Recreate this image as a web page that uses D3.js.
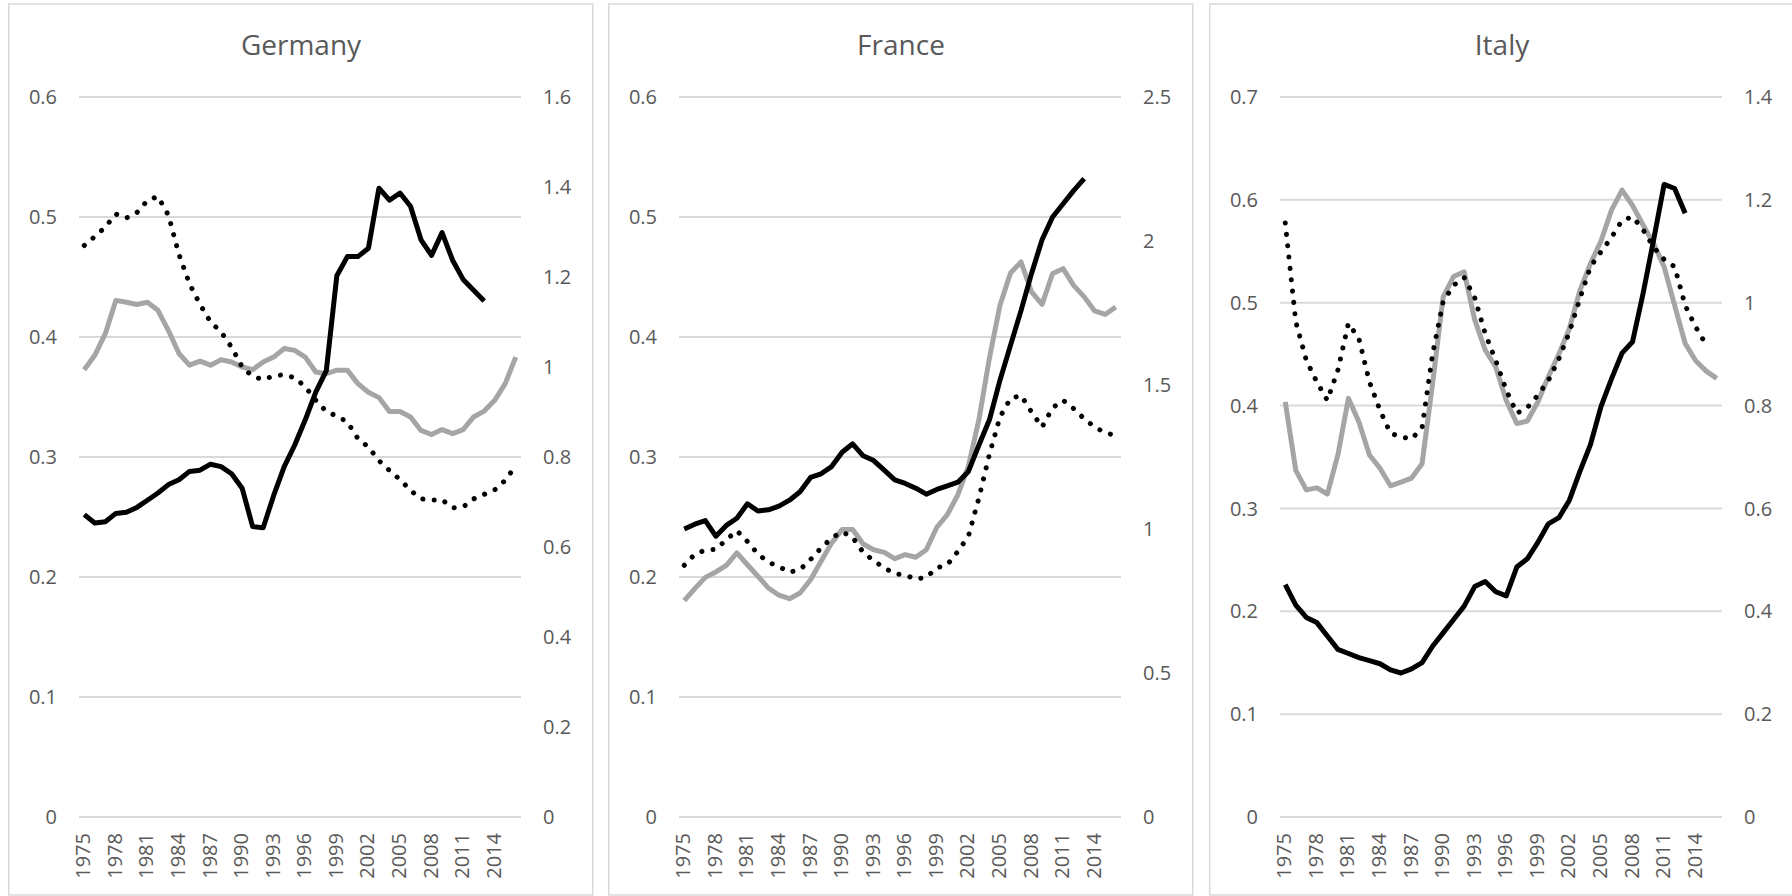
<!DOCTYPE html>
<html>
<head>
<meta charset="utf-8">
<script src="https://cdn.jsdelivr.net/npm/d3@7"></script>
<style>
  body { margin: 0; background: #fff; }
  text { font-family: "Open Sans", Lato, sans-serif; fill: #595959; }
</style>
</head>
<body>
<svg id="chart"></svg>
<script>
// categories
const years = [1975,1976,1977,1978,1979,1980,1981,1982,1983,1984,1985,1986,1987,1988,1989,1990,
  1991,1992,1993,1994,1995,1996,1997,1998,1999,2000,2001,2002,2003,2004,2005,2006,2007,2008,
  2009,2010,2011,2012,2013,2014,2015,2016];
const yearTicks = [1975,1978,1981,1984,1987,1990,1993,1996,1999,2002,2005,2008,2011,2014];

// Germany
const germanyBlack = [0.252,0.245,0.246,0.253,0.254,0.258,0.264,0.270,0.277,0.281,
  0.288,0.289,0.294,0.292,0.286,0.274,0.242,0.241,0.268,0.292,
  0.310,0.331,0.354,0.372,0.451,0.467,0.467,0.474,0.524,0.514,
  0.520,0.509,0.481,0.468,0.487,0.464,0.448,0.439,0.430,null,null,null];
const germanyGray = [0.994,1.026,1.074,1.148,1.144,1.139,1.144,1.126,1.081,1.030,
  1.004,1.013,1.004,1.016,1.011,1.000,0.994,1.011,1.022,1.041,
  1.037,1.022,0.989,0.985,0.993,0.993,0.963,0.944,0.932,0.901,
  0.901,0.889,0.859,0.850,0.861,0.852,0.861,0.889,0.902,0.926,0.963,1.022];
const germanyDotted = [1.270,1.290,1.311,1.340,1.331,1.343,1.370,1.379,1.337,1.250,
  1.185,1.139,1.100,1.078,1.044,1.000,0.979,0.972,0.980,0.983,
  0.976,0.956,0.926,0.901,0.891,0.878,0.841,0.822,0.792,0.770,
  0.750,0.726,0.707,0.704,0.705,0.687,0.689,0.707,0.717,0.727,0.748,0.781];

// France
const franceBlack = [0.240,0.244,0.247,0.234,0.243,0.249,0.261,0.255,0.256,0.259,
  0.264,0.271,0.283,0.286,0.292,0.304,0.311,0.301,0.297,0.289,
  0.281,0.278,0.274,0.269,0.273,0.276,0.279,0.288,0.310,0.331,
  0.364,0.393,0.422,0.453,0.481,0.500,0.511,0.522,0.532,null,null,null];
const franceGray = [0.751,0.793,0.832,0.851,0.874,0.917,0.876,0.836,0.795,0.770,
  0.758,0.778,0.824,0.888,0.951,0.998,0.998,0.948,0.928,0.919,
  0.897,0.911,0.902,0.928,1.006,1.050,1.119,1.218,1.380,1.594,
  1.777,1.889,1.927,1.823,1.780,1.887,1.904,1.846,1.806,1.757,1.745,1.771];
const franceDotted = [0.874,0.912,0.927,0.929,0.963,0.994,0.957,0.913,0.885,0.869,
  0.850,0.859,0.894,0.934,0.969,0.990,0.971,0.919,0.890,0.865,
  0.845,0.840,0.826,0.832,0.865,0.876,0.922,0.975,1.108,1.260,
  1.389,1.453,1.464,1.406,1.354,1.421,1.447,1.418,1.383,1.354,1.334,1.325];

// Italy
const italyBlack = [0.226,0.206,0.194,0.189,0.176,0.163,0.159,0.155,0.152,0.149,
  0.143,0.140,0.144,0.150,0.166,0.179,0.192,0.205,0.224,0.229,
  0.219,0.215,0.243,0.251,0.267,0.285,0.291,0.308,0.336,0.362,
  0.399,0.426,0.451,0.462,0.509,0.561,0.615,0.611,0.587,null,null,null];
const italyGray = [0.807,0.674,0.636,0.640,0.628,0.704,0.814,0.768,0.704,0.678,
  0.644,0.651,0.659,0.687,0.843,1.011,1.051,1.060,0.967,0.908,
  0.875,0.810,0.765,0.770,0.807,0.856,0.900,0.950,1.024,1.076,
  1.120,1.180,1.219,1.189,1.151,1.115,1.070,0.995,0.921,0.887,0.867,0.853];
const italyDotted = [1.155,0.963,0.888,0.846,0.810,0.869,0.960,0.930,0.846,0.791,
  0.746,0.739,0.735,0.757,0.900,1.002,1.034,1.049,1.010,0.940,
  0.888,0.830,0.785,0.796,0.820,0.849,0.891,0.943,1.008,1.070,
  1.099,1.127,1.160,1.167,1.142,1.108,1.084,1.070,0.995,0.953,0.918,null];

// axis ticks
const leftTicks = {
  Germany: [0,0.1,0.2,0.3,0.4,0.5,0.6],
  France: [0,0.1,0.2,0.3,0.4,0.5,0.6],
  Italy: [0,0.1,0.2,0.3,0.4,0.5,0.6,0.7]
};
const rightTicks = {
  Germany: [0,0.2,0.4,0.6,0.8,1,1.2,1.4,1.6],
  France: [0,0.5,1,1.5,2,2.5],
  Italy: [0,0.2,0.4,0.6,0.8,1,1.2,1.4]
};

const panels = [
  {name: "Germany", x0: 8, black: germanyBlack, gray: germanyGray, dotted: germanyDotted},
  {name: "France", x0: 608, black: franceBlack, gray: franceGray, dotted: franceDotted},
  {name: "Italy", x0: 1209, black: italyBlack, gray: italyGray, dotted: italyDotted}
];

const width = 1792, height = 896;
const panelW = 584, panelTop = 4, panelH = 891;
const plotLeft = 71, plotW = 442, plotTop = 97, plotBottom = 817;

const svg = d3.select("#chart")
    .attr("width", width)
    .attr("height", height);

svg.append("rect")
    .attr("width", width)
    .attr("height", height)
    .attr("fill", "#fff");

const fmt = v => String(+v.toFixed(1));

panels.forEach(p => {
    const g = svg.append("g").attr("transform", "translate(" + p.x0 + ",0)");

    // panel border
    g.append("rect")
        .attr("x", 0.75)
        .attr("y", panelTop)
        .attr("width", panelW)
        .attr("height", panelH)
        .attr("fill", "none")
        .attr("stroke", "#d9d9d9")
        .attr("stroke-width", 1.5);

    // title
    g.append("text")
        .attr("x", panelW / 2 + 1)
        .attr("y", 55)
        .attr("text-anchor", "middle")
        .style("font-size", "28px")
        .text(p.name);

    const lt = leftTicks[p.name], rt = rightTicks[p.name];

    const x = d3.scalePoint()
        .domain(years)
        .range([plotLeft, plotLeft + plotW])
        .padding(0.5);

    const yL = d3.scaleLinear()
        .domain([0, lt[lt.length - 1]])
        .range([plotBottom, plotTop]);

    const yR = d3.scaleLinear()
        .domain([0, rt[rt.length - 1]])
        .range([plotBottom, plotTop]);

    // gridlines
    g.append("g")
        .selectAll("line")
        .data(lt)
        .enter().append("line")
        .attr("x1", plotLeft)
        .attr("x2", plotLeft + plotW)
        .attr("y1", d => yL(d))
        .attr("y2", d => yL(d))
        .attr("stroke", "#d9d9d9")
        .attr("stroke-width", 2);

    // left axis labels
    g.append("g")
        .selectAll("text")
        .data(lt)
        .enter().append("text")
        .attr("x", plotLeft - 22)
        .attr("y", d => yL(d))
        .attr("dy", "0.36em")
        .attr("text-anchor", "end")
        .style("font-size", "20px")
        .text(fmt);

    // right axis labels
    g.append("g")
        .selectAll("text")
        .data(rt)
        .enter().append("text")
        .attr("x", plotLeft + plotW + 22)
        .attr("y", d => yR(d))
        .attr("dy", "0.36em")
        .attr("text-anchor", "start")
        .style("font-size", "20px")
        .text(fmt);

    // year labels, rotated
    g.append("g")
        .selectAll("text")
        .data(yearTicks)
        .enter().append("text")
        .attr("transform", d => "translate(" + (x(d) + 6) + "," + (plotBottom + 16) + ") rotate(-90)")
        .attr("text-anchor", "end")
        .style("font-size", "20px")
        .text(d => d);

    const lineL = d3.line()
        .defined(d => d[1] != null)
        .x(d => x(d[0]))
        .y(d => yL(d[1]));

    const lineR = d3.line()
        .defined(d => d[1] != null)
        .x(d => x(d[0]))
        .y(d => yR(d[1]));

    const zip = arr => years.map((yr, i) => [yr, arr[i]]);

    // gray series (right axis)
    g.append("path")
        .attr("d", lineR(zip(p.gray)))
        .attr("fill", "none")
        .attr("stroke", "#a5a5a5")
        .attr("stroke-width", 5)
        .attr("stroke-linejoin", "round");

    // dotted series (right axis)
    g.append("path")
        .attr("d", lineR(zip(p.dotted)))
        .attr("fill", "none")
        .attr("stroke", "#000")
        .attr("stroke-width", 5)
        .attr("stroke-linecap", "round")
        .attr("stroke-dasharray", "0.1 11.3");

    // black series (left axis)
    g.append("path")
        .attr("d", lineL(zip(p.black)))
        .attr("fill", "none")
        .attr("stroke", "#000")
        .attr("stroke-width", 5)
        .attr("stroke-linejoin", "round");
});
</script>
</body>
</html>
